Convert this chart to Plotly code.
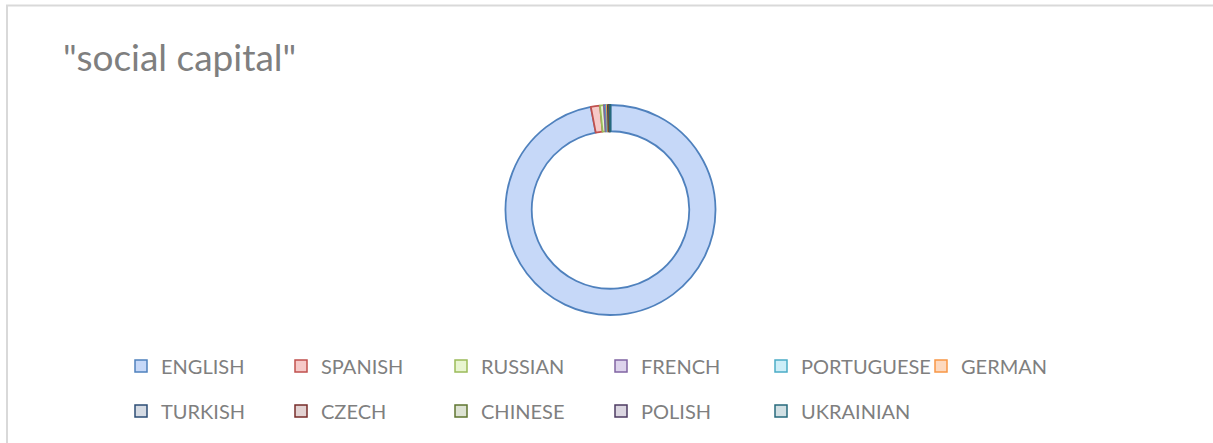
import plotly.graph_objects as go

W, H = 1213, 443

languages = ["ENGLISH", "SPANISH", "RUSSIAN", "FRENCH", "PORTUGUESE", "GERMAN",
             "TURKISH", "CZECH", "CHINESE", "POLISH", "UKRAINIAN"]
shares = [97.0, 1.4, 0.6, 0.3, 0.15, 0.15, 0.1, 0.08, 0.08, 0.06, 0.08]
fill_colors = ["#c6d8f8", "#f6c9c8", "#e8f5d0", "#ddd3ec", "#cdeef8", "#fdd9bf",
               "#d5dbe4", "#e3d2d2", "#dde3d3", "#dbd6e1", "#d1e0e4"]
line_colors = ["#4f81bd", "#c0504d", "#9bbb59", "#8064a2", "#4bacc6", "#f79646",
               "#2c4d75", "#772c2a", "#5f7530", "#4d3b62", "#276a7c"]
title_text = '"social capital"'

def px_x(v):
    return v / W

def px_y(v):
    return 1 - v / H

fig = go.Figure()

cx, cy, r = 610.5, 210, 105
fig.add_trace(go.Pie(
    labels=languages, values=shares, sort=False, direction="clockwise", rotation=0,
    hole=0.75, textinfo="none", showlegend=False,
    marker=dict(colors=fill_colors, line=dict(color=line_colors, width=1.8)),
    domain=dict(x=[px_x(cx - r), px_x(cx + r)], y=[px_y(cy + r), px_y(cy - r)]),
))

for i, (lab, fc, lc) in enumerate(zip(languages, fill_colors, line_colors)):
    fig.add_trace(go.Scatter(
        x=[None], y=[None], mode="markers", name=lab,
        marker=dict(symbol="square", size=12, color=fc, line=dict(color=lc, width=1.5)),
        legend="legend" if i < 6 else "legend2",
    ))

legend_common = dict(orientation="h", entrywidth=115, entrywidthmode="pixels",
                     font=dict(family="Lato", size=20, color="#7f7f7f"),
                     bgcolor="rgba(0,0,0,0)", xanchor="left", yanchor="middle",
                     itemclick=False, itemdoubleclick=False)

fig.update_layout(
    width=W, height=H,
    margin=dict(l=0, r=0, t=0, b=0),
    paper_bgcolor="white", plot_bgcolor="white",
    xaxis=dict(visible=False), yaxis=dict(visible=False),
    legend=dict(x=px_x(121), y=px_y(366), **legend_common),
    legend2=dict(x=px_x(121), y=px_y(411), **legend_common),
    annotations=[dict(text=title_text, x=px_x(61), y=px_y(57), xref="paper", yref="paper",
                      xanchor="left", yanchor="middle", showarrow=False,
                      font=dict(family="Lato", size=37, color="#7f7f7f"))],
    shapes=[dict(type="rect", xref="paper", yref="paper",
                 x0=px_x(7), x1=px_x(1216), y0=px_y(460), y1=px_y(5.5),
                 line=dict(color="#d9d9d9", width=2), fillcolor="rgba(0,0,0,0)")],
)

fig.write_html("out.html")
